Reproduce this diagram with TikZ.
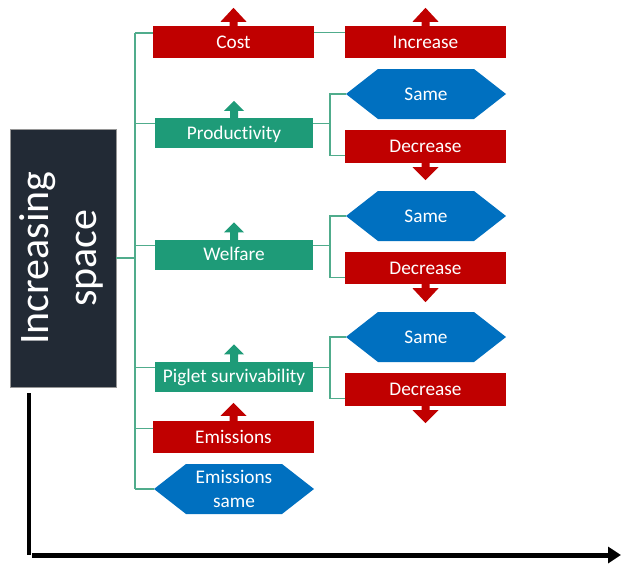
\documentclass[tikz,border=0pt]{standalone}
\usepackage{fontspec}
\setmainfont{Carlito}[Ligatures={NoCommon}]
\usetikzlibrary{calc,arrows.meta}
\definecolor{redc}{HTML}{C00000}
\definecolor{greenc}{RGB}{30,155,120}
\definecolor{bluec}{HTML}{0070C0}
\definecolor{darkc}{HTML}{222A35}
\definecolor{treec}{RGB}{80,172,140}
\definecolor{boxedge}{RGB}{150,150,150}
% anchor, inner overlap, stem end, tip, head half-width, colour
\newcommand\barrow[6]{%
  \fill[#6] ($(#1)+(-4,#2)$) -- ($(#1)+(-4,#3)$) -- ($(#1)+(-#5,#3)$) --
    ($(#1)+(0,#4)$) -- ($(#1)+(#5,#3)$) -- ($(#1)+(4,#3)$) --
    ($(#1)+(4,#2)$) -- cycle;}
\begin{document}
\begin{tikzpicture}[x=1pt,y=-1pt,
  lbl/.style={text=white,font=\fontsize{19.3}{23.5}\selectfont,inner sep=0pt,align=center},
  sl/.style={text height=12.5pt,text depth=0pt},
  redbox/.style={lbl,sl,fill=redc,minimum width=161pt,minimum height=32pt},
  greenbox/.style={lbl,sl,fill=greenc,minimum width=158pt,minimum height=30pt},
  hexbox/.style={lbl,fill=white,minimum width=160pt,minimum height=50pt,
    path picture={\fill[bluec] (path picture bounding box.west)
      -- ($(path picture bounding box.north west)+(32pt,0pt)$)
      -- ($(path picture bounding box.north east)+(-32pt,0pt)$)
      -- (path picture bounding box.east)
      -- ($(path picture bounding box.south east)+(-32pt,0pt)$)
      -- ($(path picture bounding box.south west)+(32pt,0pt)$) -- cycle;}},
  tree/.style={draw=treec,line width=1.3pt},
  titlebox/.style={draw=boxedge,line width=0.8pt,fill=darkc,text=white,
    minimum width=106pt,minimum height=258pt,inner sep=0pt}]
\useasboundingbox (0,0) rectangle (621,563);

% title box
\node[titlebox] (box) at (63,258)
  {\fontsize{42}{48}\selectfont\rotatebox{90}{\begin{tabular}{@{}c@{}}Increasing\\space\end{tabular}}};

% left column
\node[redbox] (cost) at (233.5,42) {Cost};
\node[greenbox] (prod) at (234,133) {Productivity};
\node[greenbox] (welf) at (234,254.5) {Welfare};
\node[greenbox] (pig) at (234,376.5) {Piglet survivability};
\node[redbox] (emis) at (233.5,437) {Emissions};
\node[hexbox] (emsame) at (234,489) {Emissions\\same};

% right column
\node[redbox] (inc) at (425.5,42) {Increase};
\node[hexbox,sl] (same1) at (426,94) {Same};
\node[redbox,minimum height=33pt] (dec1) at (425.5,146.5) {Decrease};
\node[hexbox,sl] (same2) at (426,216) {Same};
\node[redbox] (dec2) at (425.5,268) {Decrease};
\node[hexbox,sl] (same3) at (426,337) {Same};
\node[redbox,minimum height=33pt] (dec3) at (425.5,389.5) {Decrease};

% block arrows
\barrow{cost.north}{1}{-4}{-18}{13}{redc}
\barrow{inc.north}{1}{-4}{-18}{13}{redc}
\barrow{emis.north}{1}{-5}{-18}{13}{redc}
\barrow{prod.north}{1}{-7}{-17}{10}{greenc}
\barrow{welf.north}{1}{-7}{-17}{10}{greenc}
\barrow{pig.north}{1}{-7}{-17}{10}{greenc}
\barrow{dec1.south}{-1}{4}{17}{13}{redc}
\barrow{dec2.south}{-1}{4}{18}{13}{redc}
\barrow{dec3.south}{-1}{4}{17}{13}{redc}

% left tree
\coordinate (jT) at (135,33);
\coordinate (jB) at (135,489);
\coordinate (pL) at ($(prod.north west)+(0,6)$);
\coordinate (wL) at ($(welf.north west)+(0,6)$);
\coordinate (gL) at ($(pig.north west)+(0,6)$);
\coordinate (eL) at ($(emis.north west)+(0,8)$);
\draw[tree] (jT) -- (jB);
\draw[tree] (box.east) -- (box.east -| jT);
\draw[tree] (jT) -- (jT -| cost.west);
\draw[tree] (pL -| jT) -- (pL);
\draw[tree] (wL -| jT) -- (wL);
\draw[tree] (gL -| jT) -- (gL);
\draw[tree] (eL -| jT) -- (eL);
\draw[tree] (jB) -- (emsame.west);

% cost -> increase
\coordinate (cR) at ($(cost.north east)+(0,7)$);
\draw[tree] (cR) -- (cR -| inc.west);

% right branches
\coordinate (k) at (330,0);
\coordinate (pR) at ($(prod.north east)+(0,6)$);
\coordinate (wR) at ($(welf.north east)+(0,6)$);
\coordinate (gR) at ($(pig.north east)+(0,6)$);
\coordinate (d1L) at ($(dec1.south west)+(0,-8)$);
\coordinate (d2L) at ($(dec2.south west)+(0,-7)$);
\coordinate (d3L) at ($(dec3.south west)+(0,-8)$);
\draw[tree] (pR) -- (pR -| k);
\draw[tree] (same1.west) -| (k |- d1L) -- (d1L);
\draw[tree] (wR) -- (wR -| k);
\draw[tree] (same2.west) -| (k |- d2L) -- (d2L);
\draw[tree] (gR) -- (gR -| k);
\draw[tree] (same3.west) -| (k |- d3L) -- (d3L);

% axes
\coordinate (av0) at (29,393);
\coordinate (av1) at (29,555);
\coordinate (ah0) at (32,555);
\coordinate (ah1) at (621,555);
\draw[line width=4pt] (av0) -- (av1);
\draw[line width=5pt,-{Triangle[length=13pt,width=16pt]}] (ah0) -- (ah1);
\end{tikzpicture}
\end{document}
